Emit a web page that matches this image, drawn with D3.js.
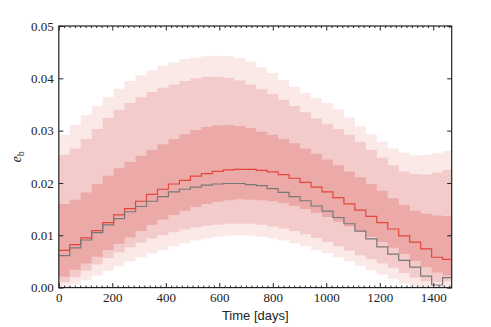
<!DOCTYPE html>
<html lang="en">

<head>
  <meta charset="UTF-8">
  <title>e_b vs time</title>
  <script src="https://d3js.org/d3.v7.min.js"></script>
  <style>
    body {
      margin: 0;
      background: #fff;
    }

    .tick text {
      font-family: "Liberation Serif", serif;
      font-size: 13px;
      fill: #222;
    }
  </style>
</head>

<body>
  <div class="chartContainer"></div>

  <script>
    // bin start times (days), the last bin runs to endDay
    const binStart = [0, 41, 82, 123, 164, 205, 246, 287, 328, 369, 410, 451, 492, 533, 574, 615, 656, 697,
      738, 779, 820, 861, 902, 943, 984, 1025, 1066, 1107, 1148, 1189, 1230, 1271, 1312, 1353, 1394, 1435]
    const endDay = 1469

    // median (red) and the other run (gray)
    const median = [0.0071, 0.0082, 0.0095, 0.0109, 0.0124, 0.0139, 0.0151, 0.0165, 0.0178, 0.0188, 0.0198, 0.0205,
      0.0213, 0.0218, 0.0222, 0.0225, 0.0226, 0.0226, 0.0224, 0.0221, 0.0216, 0.0209, 0.0201, 0.0192,
      0.0183, 0.0172, 0.0160, 0.0148, 0.0136, 0.0124, 0.0112, 0.0099, 0.0087, 0.0074, 0.0058, 0.0054]
    const truth = [0.0061, 0.0076, 0.0091, 0.0105, 0.0120, 0.0132, 0.0145, 0.0155, 0.0165, 0.0174, 0.0183, 0.0188,
      0.0192, 0.0196, 0.0198, 0.0199, 0.0199, 0.0197, 0.0195, 0.0189, 0.0182, 0.0174, 0.0166, 0.0156,
      0.0146, 0.0134, 0.0122, 0.0108, 0.0093, 0.0078, 0.0064, 0.0052, 0.0039, 0.0022, 0.0005, 0.0019]

    // bands: 1, 2, 3 sigma lower / upper
    const lo1 = [0.0021, 0.0034, 0.0046, 0.0059, 0.0072, 0.0084, 0.0096, 0.0108, 0.0120, 0.0130, 0.0139, 0.0147,
      0.0154, 0.0160, 0.0164, 0.0167, 0.0169, 0.0168, 0.0167, 0.0165, 0.0161, 0.0156, 0.0150, 0.0143,
      0.0135, 0.0126, 0.0117, 0.0107, 0.0097, 0.0087, 0.0076, 0.0064, 0.0051, 0.0039, 0.0029, 0.0023]
    const hi1 = [0.0160, 0.0168, 0.0182, 0.0198, 0.0214, 0.0228, 0.0240, 0.0252, 0.0263, 0.0274, 0.0284, 0.0293,
      0.0301, 0.0307, 0.0310, 0.0311, 0.0309, 0.0305, 0.0298, 0.0292, 0.0284, 0.0276, 0.0266, 0.0256,
      0.0245, 0.0234, 0.0222, 0.0211, 0.0198, 0.0185, 0.0171, 0.0158, 0.0147, 0.0141, 0.0138, 0.0137]
    const lo2 = [0.0010, 0.0020, 0.0032, 0.0044, 0.0056, 0.0067, 0.0077, 0.0086, 0.0094, 0.0100, 0.0106, 0.0111,
      0.0115, 0.0118, 0.0120, 0.0122, 0.0122, 0.0122, 0.0120, 0.0117, 0.0113, 0.0108, 0.0102, 0.0095,
      0.0087, 0.0079, 0.0071, 0.0062, 0.0054, 0.0046, 0.0038, 0.0028, 0.0019, 0.0012, 0.0010, 0.0012]
    const hi2 = [0.0254, 0.0266, 0.0284, 0.0303, 0.0324, 0.0340, 0.0353, 0.0364, 0.0374, 0.0382, 0.0388, 0.0395,
      0.0400, 0.0403, 0.0403, 0.0401, 0.0396, 0.0388, 0.0379, 0.0370, 0.0359, 0.0347, 0.0335, 0.0323,
      0.0313, 0.0303, 0.0292, 0.0279, 0.0263, 0.0248, 0.0234, 0.0222, 0.0217, 0.0216, 0.0220, 0.0225]
    const lo3 = [0.0000, 0.0006, 0.0014, 0.0023, 0.0032, 0.0041, 0.0050, 0.0058, 0.0065, 0.0072, 0.0079, 0.0085,
      0.0090, 0.0094, 0.0097, 0.0099, 0.0100, 0.0099, 0.0097, 0.0094, 0.0090, 0.0085, 0.0079, 0.0072,
      0.0066, 0.0058, 0.0050, 0.0042, 0.0033, 0.0025, 0.0016, 0.0008, 0.0002, 0.0000, 0.0000, 0.0000]
    const hi3 = [0.0292, 0.0311, 0.0330, 0.0347, 0.0364, 0.0380, 0.0395, 0.0406, 0.0415, 0.0424, 0.0430, 0.0437,
      0.0440, 0.0442, 0.0443, 0.0442, 0.0439, 0.0432, 0.0421, 0.0410, 0.0397, 0.0384, 0.0372, 0.0362,
      0.0353, 0.0341, 0.0325, 0.0308, 0.0293, 0.0279, 0.0266, 0.0258, 0.0253, 0.0254, 0.0257, 0.0261]

    const xTicks = [0, 200, 400, 600, 800, 1000, 1200, 1400]
    const yTicks = [0, 0.01, 0.02, 0.03, 0.04, 0.05]

    const W = 491, H = 327
    const svg = d3.select('.chartContainer')
      .append('svg')
      .attr('width', W)
      .attr('height', H)

    const x = d3.scaleLinear().domain([0, endDay]).range([58.8, 451.7])
    const y = d3.scaleLinear().domain([0, 0.05]).range([287.6, 26])

    // step series: repeat the last value at endDay
    const steps = arr => binStart.map((t, i) => ({ t, v: arr[i] })).concat([{ t: endDay, v: arr[arr.length - 1] }])

    const band = (lo, hi) => binStart.map((t, i) => ({ t, lo: lo[i], hi: hi[i] }))
      .concat([{ t: endDay, lo: lo[lo.length - 1], hi: hi[hi.length - 1] }])

    const area = d3.area()
      .curve(d3.curveStepAfter)
      .x(d => x(d.t))
      .y0(d => y(d.lo))
      .y1(d => y(d.hi))

    const line = d3.line()
      .curve(d3.curveStepAfter)
      .x(d => x(d.t))
      .y(d => y(d.v))

    const bands = [
      { lo: lo3, hi: hi3, color: '#fbe9e8' },
      { lo: lo2, hi: hi2, color: '#f4cbcb' },
      { lo: lo1, hi: hi1, color: '#eba9a7' }
    ]

    svg.selectAll('path.band')
      .data(bands)
      .enter()
      .append('path')
      .attr('class', 'band')
      .attr('d', d => area(band(d.lo, d.hi)))
      .attr('fill', d => d.color)

    svg.append('path')
      .attr('d', line(steps(median)))
      .attr('fill', 'none')
      .attr('stroke', '#e4463b')
      .attr('stroke-width', 1.2)

    svg.append('path')
      .attr('d', line(steps(truth)))
      .attr('fill', 'none')
      .attr('stroke', '#787878')
      .attr('stroke-width', 1.2)

    // axes, ticks pointing inwards on all four sides
    const minorX = d3.range(0, endDay, 20).filter(d => d % 200 !== 0)
    const fmt = d3.format('.2f')

    const axBottom = svg.append('g').attr('transform', `translate(0,${y(0)})`)
    axBottom.call(d3.axisBottom(x).tickValues(xTicks).tickSize(-4.5).tickPadding(5).tickFormat(d3.format('d')))
    axBottom.append('g').call(d3.axisBottom(x).tickValues(minorX).tickSize(-2).tickFormat(''))

    const axTop = svg.append('g').attr('transform', `translate(0,${y(0.05)})`)
    axTop.call(d3.axisTop(x).tickValues(xTicks).tickSize(-4.5).tickFormat(''))
    axTop.append('g').call(d3.axisTop(x).tickValues(minorX).tickSize(-2).tickFormat(''))

    svg.append('g').attr('transform', `translate(${x(0)},0)`)
      .call(d3.axisLeft(y).tickValues(yTicks).tickSize(-4.5).tickPadding(5).tickFormat(fmt))
    svg.append('g').attr('transform', `translate(${x(endDay)},0)`)
      .call(d3.axisRight(y).tickValues(yTicks).tickSize(-4.5).tickFormat(''))

    svg.selectAll('.domain').remove()
    svg.selectAll('.tick line').attr('stroke', '#222').attr('stroke-width', 1)

    svg.append('rect')
      .attr('x', x(0))
      .attr('y', y(0.05))
      .attr('width', x(endDay) - x(0))
      .attr('height', y(0) - y(0.05))
      .attr('fill', 'none')
      .attr('stroke', '#222')
      .attr('stroke-width', 1.2)

    // labels
    svg.append('text')
      .attr('x', (x(0) + x(endDay)) / 2)
      .attr('y', 320)
      .attr('text-anchor', 'middle')
      .style('font-family', '"Liberation Sans", Arial, sans-serif')
      .style('font-size', '13px')
      .attr('fill', '#222')
      .text('Time [days]')

    const yl = svg.append('text')
      .attr('transform', `translate(21,${(y(0) + y(0.05)) / 2}) rotate(-90)`)
      .attr('text-anchor', 'middle')
      .style('font-family', '"Liberation Serif", serif')
      .attr('fill', '#222')
    yl.append('tspan').style('font-style', 'italic').style('font-size', '14px').text('e')
    yl.append('tspan').attr('dy', 3).style('font-size', '10px').text('b')
  </script>
</body>

</html>
